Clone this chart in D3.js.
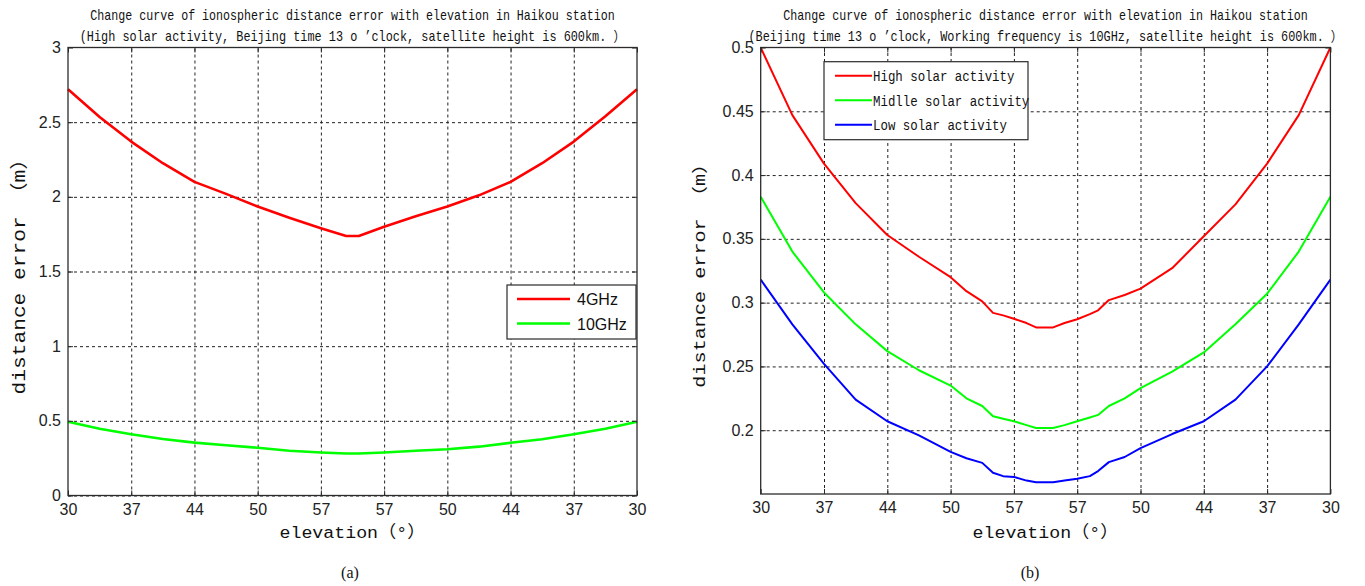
<!DOCTYPE html>
<html>
<head>
<meta charset="utf-8">
<script src="https://cdn.jsdelivr.net/npm/d3@7"></script>
<style>
  body { margin: 0; background: #fff; }
</style>
</head>
<body>
<svg id="chart" width="1365" height="586"></svg>
<script>
"use strict";

// x axis: ten ticks, elevation going up to the zenith pass and back down
const xTickPos = [0, 1, 2, 3, 4, 5, 6, 7, 8, 9];
const xLabels = ["30", "37", "44", "50", "57", "57", "50", "44", "37", "30"];

// panel (a) - high solar activity, two frequencies
const posA = [0, 0.5, 1, 1.5, 2, 2.5, 3, 3.5, 4, 4.4, 4.6, 5, 5.5, 6, 6.5, 7, 7.5, 8, 8.5, 9];
const ghz4 = [2.72, 2.535, 2.37, 2.225, 2.10, 2.02, 1.935, 1.86, 1.79, 1.738, 1.738, 1.80, 1.87, 1.935, 2.01, 2.10, 2.225, 2.37, 2.54, 2.72];
const ghz10 = [0.494, 0.447, 0.41, 0.378, 0.354, 0.336, 0.32, 0.30, 0.288, 0.281, 0.281, 0.288, 0.30, 0.31, 0.327, 0.353, 0.377, 0.41, 0.447, 0.494];
const yTicksA = [0, 0.5, 1, 1.5, 2, 2.5, 3];

// panel (b) - 10GHz, three solar activity levels
const posB = [0, 0.5, 1, 1.5, 2, 2.5, 3, 3.25, 3.5, 3.67, 3.83, 4, 4.2, 4.35, 4.62, 4.8, 5, 5.2, 5.33, 5.5, 5.75, 6, 6.5, 7, 7.5, 8, 8.5, 9];
const highSolar = [0.5, 0.447, 0.409, 0.378, 0.353, 0.336, 0.320, 0.309, 0.301, 0.292, 0.290, 0.2874, 0.284, 0.2806, 0.2806, 0.284, 0.287, 0.291, 0.294, 0.302, 0.306, 0.311, 0.327, 0.352, 0.377, 0.409, 0.447, 0.5];
const middleSolar = [0.383, 0.340, 0.308, 0.283, 0.262, 0.247, 0.235, 0.225, 0.219, 0.211, 0.209, 0.207, 0.204, 0.2018, 0.2018, 0.204, 0.207, 0.210, 0.212, 0.219, 0.225, 0.233, 0.246, 0.261, 0.283, 0.307, 0.340, 0.383];
const lowSolar = [0.318, 0.283, 0.252, 0.224, 0.207, 0.196, 0.183, 0.178, 0.1744, 0.1666, 0.164, 0.1634, 0.1605, 0.1592, 0.1592, 0.1605, 0.1619, 0.164, 0.168, 0.175, 0.179, 0.186, 0.197, 0.207, 0.224, 0.250, 0.283, 0.318];
const yTicksB = [0.2, 0.25, 0.3, 0.35, 0.4, 0.45, 0.5];

const titleLine1 = "Change curve of ionospheric distance error with elevation in Haikou station";

const svg = d3.select("#chart");
const monoFont = "'Liberation Mono', 'Noto Sans CJK SC', monospace";
const sansFont = "'Liberation Sans', Arial, sans-serif";
const axisColor = "#2b2b2b";

// half-width units of a string (full width chars count 2)
function textUnits(s) {
  let n = 0;
  for (const c of s) n += c.charCodeAt(0) > 0x2000 ? 2 : 1;
  return n;
}

// squeeze/stretch a text along its direction so it takes the given width
function fitWidth(sel, width) {
  const natural = sel.node().getComputedTextLength();
  const k = width / natural;
  const t = sel.attr("transform") || "";
  sel.attr("transform", `${t} scale(${k},1)`);
}

function drawPanel(cfg) {
  const g = svg.append("g");
  const x = d3.scaleLinear().domain([0, 9]).range([cfg.left, cfg.right]);
  const y = d3.scaleLinear().domain(cfg.yDomain).range([cfg.bottom, cfg.top]);
  const w = cfg.right - cfg.left;
  const h = cfg.bottom - cfg.top;
  const cx = (cfg.left + cfg.right) / 2;

  // dashed grid
  g.append("g")
    .attr("transform", `translate(0,${cfg.bottom})`)
    .call(d3.axisBottom(x).tickValues(xTickPos.slice(1, -1)).tickSize(-h).tickFormat(""))
    .call((s) => s.select(".domain").remove())
    .selectAll("line")
    .attr("stroke", "#222")
    .attr("stroke-dasharray", "3,3");
  g.append("g")
    .attr("transform", `translate(${cfg.left},0)`)
    .call(d3.axisLeft(y).tickValues(cfg.yTicks.filter((v) => y(v) > cfg.top + 1)).tickSize(-w).tickFormat(""))
    .call((s) => s.select(".domain").remove())
    .selectAll("line")
    .attr("stroke", "#222")
    .attr("stroke-dasharray", "3,3");

  // curves
  const line = d3.line().x((d) => x(d[0])).y((d) => y(d[1]));
  cfg.series.forEach((s) => {
    g.append("path")
      .datum(s.pos.map((p, i) => [p, s.values[i]]))
      .attr("fill", "none")
      .attr("stroke", s.color)
      .attr("stroke-width", cfg.lineWidth)
      .attr("stroke-linejoin", "round")
      .attr("d", line);
  });

  // axes with inward ticks on all four sides
  const bottomAxis = g.append("g")
    .attr("transform", `translate(0,${cfg.bottom})`)
    .call(d3.axisBottom(x).tickValues(xTickPos).tickSizeInner(-5).tickSizeOuter(0).tickPadding(8)
      .tickFormat((d) => xLabels[d]));
  const leftAxis = g.append("g")
    .attr("transform", `translate(${cfg.left},0)`)
    .call(d3.axisLeft(y).tickValues(cfg.yTicks).tickSizeInner(-5).tickSizeOuter(0).tickPadding(7)
      .tickFormat((d) => String(d)));
  const topAxis = g.append("g")
    .attr("transform", `translate(0,${cfg.top})`)
    .call(d3.axisTop(x).tickValues(xTickPos).tickSizeInner(-5).tickSizeOuter(0).tickFormat(""));
  const rightAxis = g.append("g")
    .attr("transform", `translate(${cfg.right},0)`)
    .call(d3.axisRight(y).tickValues(cfg.yTicks).tickSizeInner(-5).tickSizeOuter(0).tickFormat(""));
  [bottomAxis, leftAxis, topAxis, rightAxis].forEach((a) => {
    a.select(".domain").remove();
    a.selectAll("line").attr("stroke", axisColor);
    a.selectAll("text").attr("fill", "#222").style("font-family", sansFont).style("font-size", "16px");
  });

  g.append("rect")
    .attr("x", cfg.left)
    .attr("y", cfg.top)
    .attr("width", w)
    .attr("height", h)
    .attr("fill", "none")
    .attr("stroke", axisColor)
    .attr("stroke-width", 1.3);

  // titles
  cfg.titles.forEach((t, i) => {
    const tt = g.append("text")
      .attr("transform", `translate(${cx},${20 + i * 21})`)
      .attr("text-anchor", "middle")
      .style("font-family", monoFont)
      .style("font-size", "14px")
      .attr("fill", "#111")
      .text(t);
    fitWidth(tt, textUnits(t) * 7);
  });

  // axis labels
  const xl = g.append("text")
    .attr("transform", `translate(${cx},538)`)
    .attr("text-anchor", "middle")
    .style("font-family", monoFont)
    .style("font-size", "17px")
    .attr("fill", "#111")
    .text("elevation（°）");
  fitWidth(xl, 146);

  const yl = g.append("text")
    .attr("transform", `translate(${cfg.yLabelX},${cfg.top + h / 2}) rotate(-90)`)
    .attr("text-anchor", "middle")
    .style("font-family", monoFont)
    .style("font-size", cfg.yLabelSize + "px")
    .attr("fill", "#111")
    .text("distance error （m）");
  fitWidth(yl, cfg.yLabelLen);

  g.append("text")
    .attr("x", cfg.captionX)
    .attr("y", 578)
    .attr("text-anchor", "middle")
    .style("font-family", "'Liberation Serif', serif")
    .style("font-size", "16px")
    .attr("fill", "#111")
    .text(cfg.caption);

  // legend
  const lg = cfg.legend;
  g.append("rect")
    .attr("x", lg.x)
    .attr("y", lg.y)
    .attr("width", lg.w)
    .attr("height", lg.h)
    .attr("fill", "#fff")
    .attr("stroke", axisColor)
    .attr("stroke-width", 1.2);
  cfg.series.forEach((s, i) => {
    const ly = lg.y + lg.first + i * lg.step;
    g.append("line")
      .attr("x1", lg.x + lg.lineFrom)
      .attr("x2", lg.x + lg.lineTo)
      .attr("y1", ly)
      .attr("y2", ly)
      .attr("stroke", s.color)
      .attr("stroke-width", cfg.lineWidth);
    const t = g.append("text")
      .attr("transform", `translate(${lg.x + lg.textX},${ly + lg.textDy})`)
      .style("font-family", lg.font)
      .style("font-size", lg.size + "px")
      .attr("fill", "#111")
      .text(s.name);
    if (lg.charW) fitWidth(t, textUnits(s.name) * lg.charW);
  });
}

drawPanel({
  left: 68, right: 637, top: 47.5, bottom: 495.5,
  yDomain: [0, 3], yTicks: yTicksA, lineWidth: 2.6,
  titles: [titleLine1, "(High solar activity, Beijing time 13 o ’clock, satellite height is 600km. ）"],
  yLabelX: 25, yLabelLen: 246, yLabelSize: 18,
  caption: "(a)", captionX: 350,
  series: [
    { name: "4GHz", color: "#ff0000", pos: posA, values: ghz4 },
    { name: "10GHz", color: "#00ff00", pos: posA, values: ghz10 },
  ],
  legend: { x: 507, y: 285, w: 129, h: 54, first: 14, step: 24.5, lineFrom: 10, lineTo: 63, textX: 70, textDy: 6, font: sansFont, size: 16 },
});

drawPanel({
  left: 760.7, right: 1330.4, top: 47.5, bottom: 494,
  yDomain: [0.15, 0.5], yTicks: yTicksB, lineWidth: 2,
  titles: [titleLine1, "(Beijing time 13 o ’clock, Working frequency is 10GHz, satellite height is 600km. ）"],
  yLabelX: 705, yLabelLen: 234, yLabelSize: 16,
  caption: "(b)", captionX: 1030,
  series: [
    { name: "High solar activity", color: "#ff0000", pos: posB, values: highSolar },
    { name: "Midlle solar activity", color: "#00ff00", pos: posB, values: middleSolar },
    { name: "Low solar activity", color: "#0000ff", pos: posB, values: lowSolar },
  ],
  legend: { x: 824, y: 61.7, w: 204, h: 78, first: 14, step: 24.5, lineFrom: 11, lineTo: 48, textX: 49, textDy: 5.5, font: monoFont, size: 14, charW: 7.45 },
});
</script>
</body>
</html>
